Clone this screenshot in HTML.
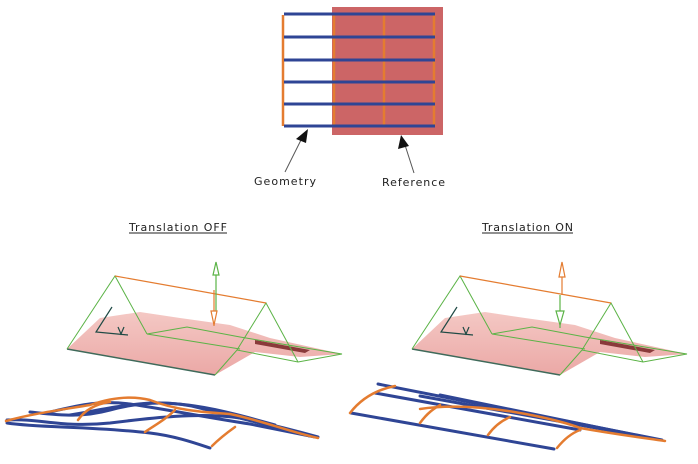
<!DOCTYPE html>
<html><head><meta charset="utf-8"><style>
html,body{margin:0;padding:0;background:#fff;}
svg{display:block;}
text{font-family:"DejaVu Sans","Liberation Sans",sans-serif;font-size:11px;fill:#222;}
</style></head><body>
<svg width="698" height="464" viewBox="0 0 698 464" xmlns="http://www.w3.org/2000/svg">
<defs>
<linearGradient id="pg" x1="0" y1="0" x2="0" y2="1">
<stop offset="0" stop-color="#f4c8c4"/><stop offset="1" stop-color="#eba8a6"/>
</linearGradient>
</defs>
<rect x="332" y="7" width="111" height="128" fill="#cc6566"/>
<g stroke="#e47c30" stroke-width="2.5">
<line x1="283" y1="15" x2="283" y2="126"/>
<line x1="334" y1="15" x2="334" y2="126"/>
<line x1="384" y1="15" x2="384" y2="126"/>
<line x1="434" y1="15" x2="434" y2="126"/>
</g>
<g stroke="#2f4595" stroke-width="3">
<line x1="284" y1="14" x2="435" y2="14"/>
<line x1="284" y1="37" x2="435" y2="37"/>
<line x1="284" y1="60" x2="435" y2="60"/>
<line x1="284" y1="82" x2="435" y2="82"/>
<line x1="284" y1="104" x2="435" y2="104"/>
<line x1="284" y1="126" x2="435" y2="126"/>
</g>
<line x1="285" y1="172" x2="302" y2="138" stroke="#555" stroke-width="1"/>
<polygon points="308,129 296,139 306,143" fill="#111"/>
<line x1="414" y1="173" x2="405" y2="145" stroke="#555" stroke-width="1"/>
<polygon points="401,135 398,149 409,146" fill="#111"/>
<text x="254" y="185" textLength="62" lengthAdjust="spacing">Geometry</text>
<text x="382" y="186" textLength="63" lengthAdjust="spacing">Reference</text>
<text x="129" y="231" textLength="98" lengthAdjust="spacing">Translation OFF</text>
<text x="482" y="231" textLength="91" lengthAdjust="spacing">Translation ON</text>
<line x1="129" y1="233" x2="227" y2="233" stroke="#222" stroke-width="1"/>
<line x1="482" y1="233" x2="573" y2="233" stroke="#222" stroke-width="1"/>

<g id="L">
<polygon points="67,349 100,318 140,312 180,318 230,325 270,338 342,354 300,357 255,352 215,375" fill="url(#pg)"/>
<path d="M255,340 L310,350 L305,353 L255,344Z" fill="#8a3a3a"/>
<line x1="67" y1="349" x2="215" y2="375" stroke="#3f6a5a" stroke-width="1.5"/>
<g stroke="#5bb346" stroke-width="1" fill="none">
<polyline points="67,349 115,276 147,334"/>
<polyline points="237,350 266,303 298,362"/>
<polyline points="147,334 187,327 240,337 342,354 298,362 237,350 215,375"/>
<line x1="147" y1="334" x2="240" y2="349"/>
</g>
<line x1="115" y1="276" x2="266" y2="303" stroke="#e47c30" stroke-width="1.2"/>
<g stroke="#1f4a45" stroke-width="1.2" fill="none">
<polyline points="112,307 96,332 128,335"/>
<polyline points="118,327 121,334 124,327"/>
</g>
</g>
<g stroke="#5bb346" stroke-width="1.2" fill="none">
<line x1="216" y1="266" x2="216" y2="313"/>
<polygon points="216,262 213,275 219,275" fill="#fff"/>
</g>
<g stroke="#e47c30" stroke-width="1.2" fill="none">
<line x1="214" y1="290" x2="214" y2="326"/>
<polygon points="211,311 217,311 214,325" fill="#fff"/>
</g>
<use href="#L" transform="translate(345,0)"/>
<g stroke="#e47c30" stroke-width="1.2" fill="none">
<line x1="562" y1="265" x2="562" y2="295"/>
<polygon points="562,262 559,277 565,277" fill="#fff"/>
</g>
<g stroke="#5bb346" stroke-width="1.2" fill="none">
<line x1="560" y1="295" x2="560" y2="328"/>
<polygon points="556,311 564,311 560,325" fill="#fff"/>
</g>

<g fill="none" stroke-linecap="round">
<g stroke="#2f4595" stroke-width="3">
<path d="M7,423 C40,428 90,426 150,433 C175,436 195,443 210,448"/>
<path d="M7,420 C40,418 60,428 110,423 C150,418 200,412 240,418 C270,424 300,432 318,437"/>
<path d="M30,412 C60,415 80,418 110,410 C140,402 170,400 200,408 C240,418 280,428 310,436"/>
<path d="M50,412 C80,405 100,400 130,404 C170,410 210,418 250,424 C280,430 300,434 315,437"/>
<path d="M70,415 C100,410 120,405 150,403 C190,402 230,412 275,425"/>
</g>
<g stroke="#e47c30" stroke-width="2.5">
<path d="M6,421 C30,414 60,410 90,405 C110,398 130,395 150,400 C175,410 200,412 230,414 C260,420 290,432 318,438"/>
<path d="M78,420 C85,410 95,404 110,402"/>
<path d="M145,432 C155,425 165,420 175,410"/>
<path d="M212,446 C220,438 228,432 235,427"/>
</g>
</g>
<g fill="none" stroke-linecap="round">
<g stroke="#2f4595" stroke-width="3">
<path d="M351,413 L554,449"/>
<path d="M378,384 L662,440"/>
<path d="M375,393 L580,430"/>
<path d="M420,396 L640,436"/>
<path d="M440,395 L650,438"/>
</g>
<g stroke="#e47c30" stroke-width="2.5">
<path d="M350,413 C360,400 375,390 395,386"/>
<path d="M420,409 C480,400 560,420 580,428 C620,435 645,438 665,441"/>
<path d="M420,423 C428,412 435,408 440,405"/>
<path d="M488,435 C495,425 503,420 510,417"/>
<path d="M557,448 C565,438 572,433 580,430"/>
</g>
</g>
</svg>
</body></html>
